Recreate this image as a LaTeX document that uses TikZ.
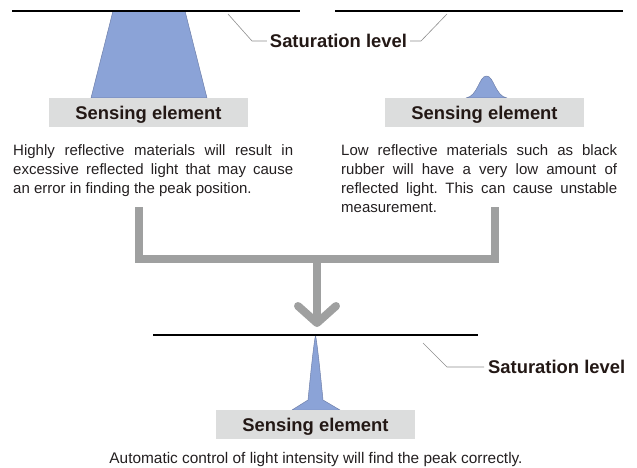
\documentclass[tikz,border=0pt]{standalone}
\usepackage{fontspec}
\setmainfont{Liberation Sans}
\frenchspacing
\definecolor{beamblue}{HTML}{8BA3D7}
\definecolor{beamedge}{HTML}{6F80AA}
\definecolor{boxgray}{HTML}{DCDDDD}
\definecolor{flowgray}{HTML}{9FA0A0}
\definecolor{leadgray}{HTML}{8E8E8E}
\definecolor{bodytext}{HTML}{231F20}
\definecolor{labeltext}{HTML}{231815}
\begin{document}
\begin{tikzpicture}[x=1pt,y=-1pt,
  satline/.style={line width=1.1pt, draw=black},
  leader/.style={line width=0.6pt, draw=leadgray},
  beam/.style={fill=beamblue, draw=beamedge, line width=0.5pt, line join=round},
  sensor/.style={fill=boxgray, minimum width=199pt, minimum height=29pt, inner sep=0pt,
    text height=16.5pt, text depth=2pt,
    font=\fontsize{18.4}{20}\selectfont\bfseries, text=labeltext},
  satlabel/.style={font=\fontsize{18.4}{20}\selectfont\bfseries, text=labeltext, inner sep=0pt},
  para/.style={font=\fontsize{15}{19}\selectfont, text=bodytext, align=left, inner sep=0pt},
  flow/.style={draw=flowgray, line width=8pt}
]
\useasboundingbox (0,0) rectangle (637,468);

% saturation lines
\coordinate (a1) at (12,11);  \coordinate (a2) at (300,11);
\coordinate (b1) at (335,11); \coordinate (b2) at (623,11);
\coordinate (c1) at (153,335); \coordinate (c2) at (478,335);

% beams
\path[beam] (113,11) -- (185,11) -- (207,98) -- (91,98) -- cycle;
\path[beam] (466,98) .. controls (478,96) and (479,76) .. (486.5,76)
  .. controls (494,76) and (495,96) .. (507,98) -- cycle;
\path[beam] (292,410) -- (308,400) .. controls (311,370) and (313.5,346) .. (315.5,335)
  .. controls (317.5,346) and (320,370) .. (323,400) -- (340,410) -- cycle;

\draw[satline] (a1) -- (a2);
\draw[satline] (b1) -- (b2);
\draw[satline] (c1) -- (c2);

% sensing elements
\node[sensor] (s1) at (148.5,112.5) {Sensing element};
\node[sensor] (s2) at (484.5,112.5) {Sensing element};
\node[sensor] (s3) at (315.5,424) {Sensing element};

% saturation labels
\node[satlabel] (l1) at (338.5,41) {Saturation level};
\node[satlabel, anchor=west] (l2) at (488,367) {Saturation level};
\coordinate (p1) at (228,14);
\coordinate (p2) at (447,14);
\coordinate (p3) at (423,343);
\draw[leader] (p1) -- (252,41) -- ([xshift=-3pt]l1.west);
\draw[leader] ([xshift=3pt]l1.east) -- (421,41) -- (p2);
\draw[leader] (p3) -- (447,367) -- ([xshift=-4pt]l2.west);

% descriptions
\node[para, anchor=north west] (t1) at (13,144) {%
\makebox[280pt][s]{Highly reflective materials will result in}\\
\makebox[280pt][s]{excessive reflected light that may cause}\\
an error in finding the peak position.};
\node[para, anchor=north west] (t2) at (341,144) {%
\makebox[276pt][s]{Low reflective materials such as black}\\
\makebox[276pt][s]{rubber will have a very low amount of}\\
\makebox[276pt][s]{reflected light. This can cause unstable}\\
measurement.};
\node[para, font=\fontsize{15.4}{19}\selectfont] (t3) at (316,460) {Automatic control of light intensity will find the peak correctly.};

% flow bracket and arrow
\coordinate (f1) at (139,207);
\coordinate (f2) at (494.5,207);
\coordinate (fm) at (317,258.5);
\coordinate (tip) at (317,323);
\draw[flow, line join=miter] (f1) -- (139,258.5) -- (494.5,258.5) -- (f2);
\draw[flow] (fm) -- (tip);
\draw[flow, line cap=round, line join=round] (298,306) -- (tip) -- (336,306);
\end{tikzpicture}
\end{document}
